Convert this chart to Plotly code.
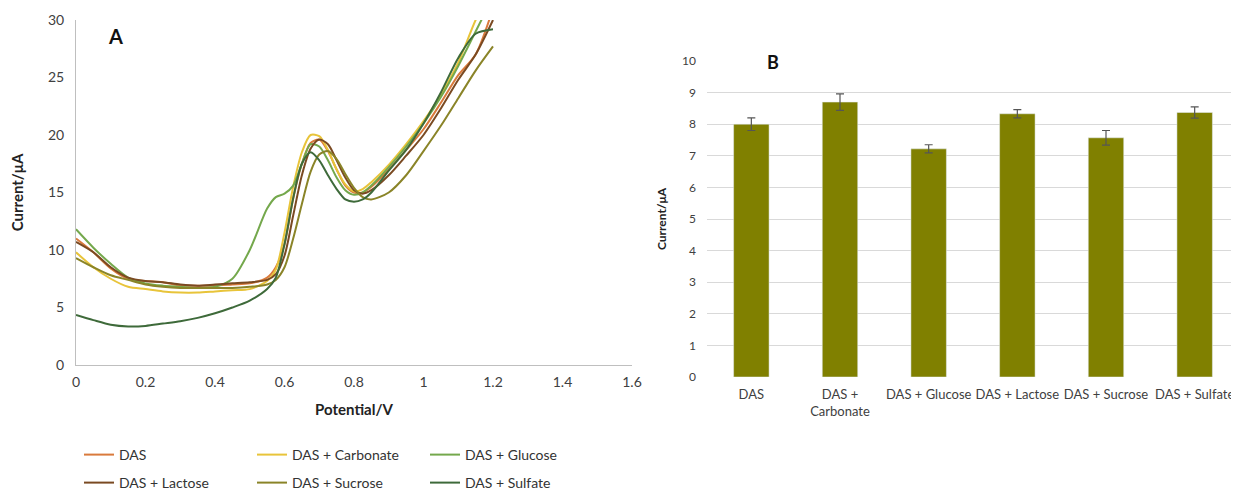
import plotly.graph_objects as go

# ---------------- Panel A data ----------------
potential = [0, 0.05, 0.1, 0.15, 0.2, 0.25, 0.3, 0.35, 0.4, 0.45, 0.5, 0.55, 0.575, 0.6,
             0.625, 0.65, 0.675, 0.7, 0.725, 0.75, 0.775, 0.8, 0.825, 0.85, 0.9, 0.95,
             1.0, 1.05, 1.1, 1.15, 1.2]

das = [11.0, 9.8, 8.4, 7.5, 7.3, 7.2, 6.9, 6.9, 6.9, 7.0, 7.1, 7.6, 8.5, 10.5,
       14.5, 17.5, 19.3, 19.6, 18.6, 17.0, 15.6, 15.0, 15.0, 15.5, 17.0, 18.7,
       20.5, 22.8, 25.2, 27.0, 31.0]
carbonate = [9.8, 8.5, 7.5, 6.8, 6.6, 6.4, 6.3, 6.3, 6.4, 6.5, 6.6, 7.3, 8.3, 11.5,
             15.5, 18.5, 20.0, 19.9, 18.7, 17.0, 15.7, 15.1, 15.3, 15.9, 17.4, 19.2,
             21.2, 23.5, 26.3, 30.0, 33.0]
glucose = [11.8, 10.2, 8.8, 7.6, 7.1, 6.9, 6.8, 6.7, 6.8, 7.5, 10.0, 13.6, 14.6, 14.9,
           15.6, 17.5, 19.2, 19.0, 17.8, 16.3, 15.2, 14.8, 15.0, 15.6, 17.2, 19.0,
           21.0, 23.3, 26.0, 29.0, 32.0]
lactose = [10.7, 9.8, 8.5, 7.6, 7.3, 7.2, 7.0, 6.9, 7.0, 7.1, 7.2, 7.4, 7.9, 9.5,
           13.0, 16.5, 18.8, 19.6, 19.2, 17.8, 16.3, 15.2, 14.9, 15.2, 16.5, 18.2,
           20.0, 22.3, 24.8, 27.0, 30.0]
sucrose = [9.3, 8.5, 7.8, 7.4, 7.0, 6.8, 6.7, 6.7, 6.7, 6.7, 6.8, 7.0, 7.4, 8.5,
           11.0, 14.0, 16.8, 18.3, 18.6, 17.9, 16.6, 15.4, 14.6, 14.4, 15.0, 16.5,
           18.6, 20.8, 23.2, 25.6, 27.7]
sulfate = [4.35, 3.9, 3.5, 3.35, 3.4, 3.6, 3.8, 4.1, 4.5, 5.0, 5.6, 6.6, 7.6, 10.5,
           14.5, 17.5, 18.5, 17.8, 16.5, 15.3, 14.4, 14.2, 14.4, 15.0, 16.9, 18.7,
           21.0, 23.7, 26.7, 28.8, 29.2]

series_names = ["DAS", "DAS + Carbonate", "DAS + Glucose",
                "DAS + Lactose", "DAS + Sucrose", "DAS + Sulfate"]
series_values = [das, carbonate, glucose, lactose, sucrose, sulfate]
series_colors = ["#D97A3C", "#E8C43A", "#74A84C", "#7A4A22", "#8A8428", "#3E6A3A"]

# ---------------- Panel B data ----------------
bar_categories = ["DAS", "DAS +<br>Carbonate", "DAS + Glucose",
                  "DAS + Lactose", "DAS + Sucrose", "DAS + Sulfate"]
bar_values = [8.0, 8.7, 7.22, 8.33, 7.57, 8.37]
bar_errors = [0.2, 0.26, 0.13, 0.13, 0.23, 0.18]

FONT = "Lato"
OFF = 8                       # default page body margin
W, H = 1239 - OFF, 490 - OFF  # figure size so it fills the window


def px(x):  # page x pixel -> paper fraction
    return (x - OFF) / W


def py(y):  # page y pixel -> paper fraction
    return (H - (y - OFF)) / H


fig = go.Figure()

for i, (name, vals, col) in enumerate(zip(series_names, series_values, series_colors)):
    fig.add_trace(go.Scatter(
        x=potential, y=vals, name=name, mode="lines",
        line=dict(color=col, width=2, shape="spline", smoothing=0.8),
        xaxis="x", yaxis="y",
        legend="legend" if i < 3 else "legend2",
    ))

fig.add_trace(go.Bar(
    x=bar_categories, y=bar_values, marker_color="#808000",
    error_y=dict(type="data", array=bar_errors, color="#555555", thickness=1.2, width=4),
    xaxis="x2", yaxis="y2", showlegend=False, width=0.4,
))

legend_common = dict(orientation="h", xanchor="left", yanchor="top",
                     entrywidth=128, entrywidthmode="pixels",
                     font=dict(size=14, color="#333"),
                     bgcolor="rgba(0,0,0,0)", itemwidth=30, tracegroupgap=0)

fig.update_layout(
    width=W, height=H,
    margin=dict(l=0, r=0, t=0, b=0, autoexpand=False),
    paper_bgcolor="white", plot_bgcolor="white",
    font=dict(family=FONT, color="#404040"),
    xaxis=dict(domain=[px(76), px(632)], range=[0, 1.6], dtick=0.2, tick0=0,
               showgrid=False, zeroline=False, showline=True, linecolor="#bfbfbf",
               ticks="", tickfont=dict(size=14, color="#404040"), automargin=False,
               ticklabelstandoff=4,
               title=dict(text="<b>Potential/V</b>", font=dict(size=15, color="#222"), standoff=15),
               anchor="y"),
    yaxis=dict(domain=[py(365), py(20)], range=[0, 30], dtick=5,
               showgrid=False, zeroline=False, showline=True, linecolor="#bfbfbf",
               ticks="", tickfont=dict(size=14, color="#404040"), automargin=False,
               ticklabelstandoff=8,
               title=dict(text="<b>Current/μA</b>", font=dict(size=15, color="#222"), standoff=20),
               anchor="x"),
    xaxis2=dict(domain=[px(707), px(1239)], showgrid=False, zeroline=False, showline=False,
                ticks="", tickfont=dict(size=13, color="#404040"), anchor="y2", automargin=False,
                ticklabelstandoff=8),
    yaxis2=dict(domain=[py(377), py(61)], range=[0, 10], dtick=1,
                showgrid=True, gridcolor="#d9d9d9", gridwidth=1, zeroline=False,
                showline=False, ticks="", tickfont=dict(size=12, color="#404040"), automargin=False,
                ticklabelstandoff=10,
                title=dict(text="<b>Current/μA</b>", font=dict(size=12, color="#222"), standoff=12),
                anchor="x2"),
    bargap=0.6,
    legend=dict(x=px(79), y=py(439), **legend_common),
    legend2=dict(x=px(79), y=py(467), **legend_common),
    annotations=[
        dict(text="<b>A</b>", x=px(115), y=py(36), xref="paper", yref="paper",
             xanchor="center", yanchor="middle",
             showarrow=False, font=dict(size=20, color="#111", family=FONT)),
        dict(text="<b>B</b>", x=px(773), y=py(62), xref="paper", yref="paper",
             xanchor="center", yanchor="middle",
             showarrow=False, font=dict(size=18, color="#111", family=FONT),
             bgcolor="white", borderpad=4),
    ],
)

fig.write_html("out.html")
